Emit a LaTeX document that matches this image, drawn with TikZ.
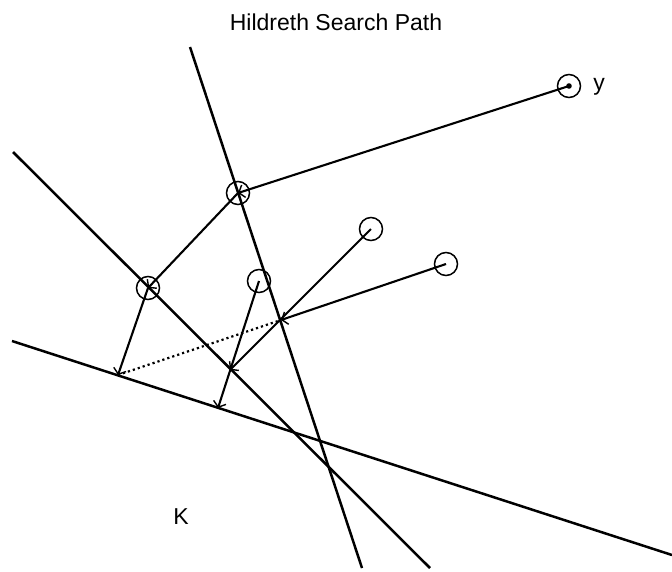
\documentclass[tikz,border=0pt]{standalone}
\usepackage{fontspec}
\setmainfont{Liberation Sans}
\usetikzlibrary{arrows.meta}
\begin{document}
\begin{tikzpicture}[x=1pt,y=-1pt,
  cline/.style={line width=2.5pt},
  seg/.style={line width=2.1pt},
  barb/.style={-{Straight Barb[length=5pt,width=13pt,line width=1.4pt]}},
  pt/.style={circle,draw,line width=1.5pt,minimum size=23pt,inner sep=0pt},
  lbl/.style={font=\fontsize{23}{27}\selectfont}
]
\useasboundingbox (0,0) rectangle (672,571);
\node[lbl] (title) at (336,22) {Hildreth Search Path};
% constraint lines
\coordinate (a1) at (190,47);  \coordinate (a2) at (362,568);
\coordinate (b1) at (13,152);  \coordinate (b2) at (430,568);
\coordinate (c1) at (12,341);  \coordinate (c2) at (672,555);
\draw[cline] (a1) -- (a2);
\draw[cline] (b1) -- (b2);
\draw[cline] (c1) -- (c2);
% points
\node[pt] (y0) at (569,86) {};
\fill (y0.center) circle (2.8pt);
\node[pt] (p1) at (238,193) {};
\node[pt] (p2) at (148,288) {};
\node[pt] (q3) at (259,281) {};
\node[pt] (q4) at (371,229) {};
\node[pt] (q5) at (446,264) {};
% projections
\coordinate (r1) at (118,375);
\coordinate (r2) at (218,408);
\coordinate (r3) at (230,370);
\coordinate (s) at (281,320);
\draw[seg,barb] (y0.center) -- (p1.center);
\draw[seg,barb] (p1.center) -- (p2.center);
\draw[seg,barb] (p2.center) -- (r1);
\draw[seg,barb] (q3.center) -- (r2);
\draw[seg,barb] (q4.center) -- (r3);
\draw[seg,barb] (q5.center) -- (s);
\draw[line width=2.2pt,dash pattern=on 2.2pt off 3pt] (r1) -- (s);
% labels
\node[lbl] (ylab) at (599,87) {y};
\node[lbl] (klab) at (181,517) {K};
\end{tikzpicture}
\end{document}
